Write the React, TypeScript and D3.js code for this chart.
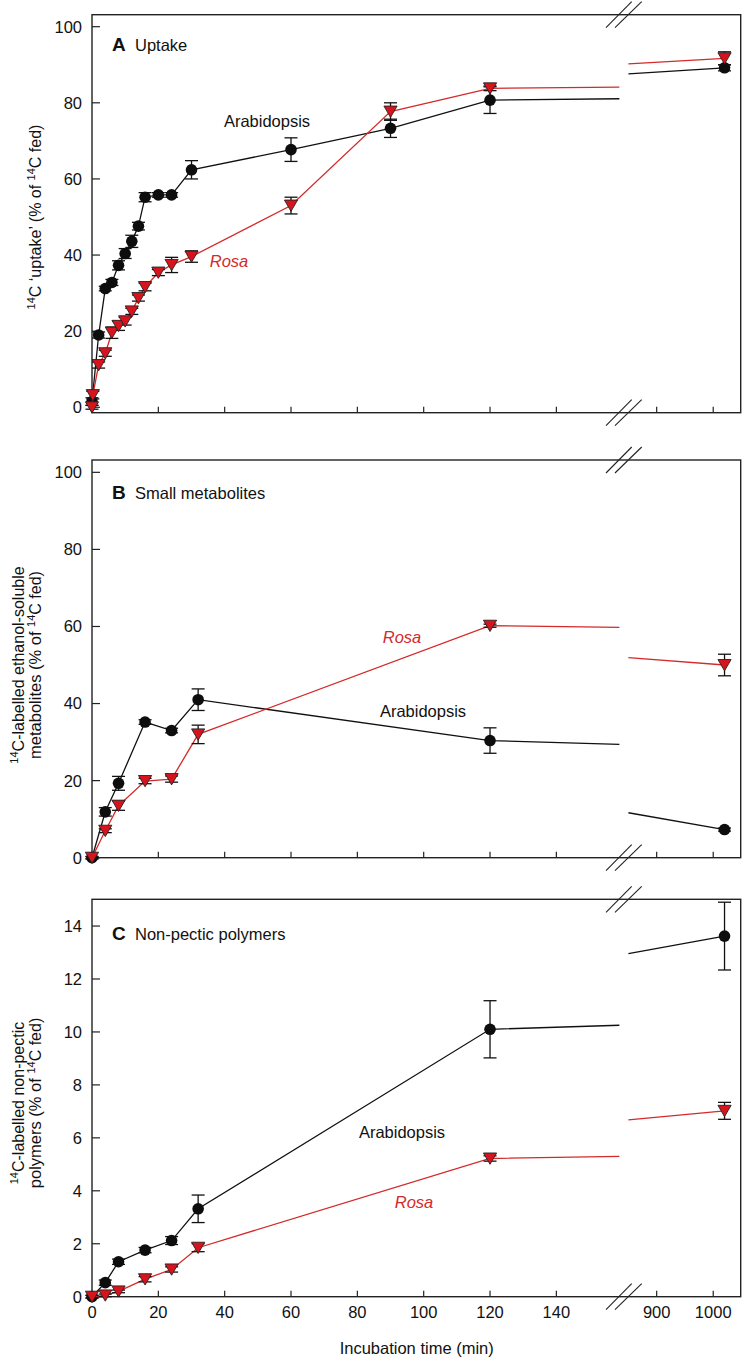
import React from 'react';
import * as d3 from 'd3';

// ---------- DATA ----------
// Panel A: uptake
const timesA_ara = [0, 2, 4, 6, 8, 10, 12, 14, 16, 20, 24, 30, 60, 90, 120, 1020];
const valsA_ara = [1.5, 19, 31.2, 32.8, 37.3, 40.4, 43.6, 47.6, 55.2, 55.8, 55.8, 62.4, 67.7, 73.3, 80.7, 89.2];
const errA_ara = [1.0, 0.8, 0.6, 0.8, 1.2, 1.3, 1.6, 1.0, 1.2, 0.6, 0.6, 2.4, 3.1, 2.4, 3.5, 0.8];

const timesA_rosa = [0, 0.25, 2, 4, 6, 8, 10, 12, 14, 16, 20, 24, 30, 60, 90, 120, 1020];
const valsA_rosa = [0, 3.2, 11.1, 14.2, 19.6, 21.4, 22.6, 25.2, 28.7, 31.6, 35.4, 37.4, 39.6, 53.0, 77.7, 83.8, 91.7];
const errA_rosa = [0.5, 1.0, 0.8, 0.8, 1.5, 1.2, 1.0, 0.8, 0.8, 1.0, 0.8, 2.0, 1.5, 2.2, 2.3, 0.6, 1.7];

// Panel B: small metabolites
const timesBC = [0, 4, 8, 16, 24, 32, 120, 1020];
const valsB_ara = [0, 11.9, 19.3, 35.2, 33.0, 41.0, 30.4, 7.3];
const errB_ara = [0.3, 1.1, 1.8, 0.6, 0.6, 2.8, 3.3, 0.4];
const valsB_rosa = [0, 7.0, 13.5, 19.9, 20.4, 32.0, 60.2, 50.0];
const errB_rosa = [0.3, 0.5, 1.2, 0.7, 0.8, 2.4, 0.4, 2.8];

// Panel C: non-pectic polymers
const valsC_ara = [0, 0.53, 1.32, 1.76, 2.12, 3.32, 10.1, 13.62];
const errC_ara = [0.05, 0.1, 0.1, 0.1, 0.15, 0.52, 1.08, 1.28];
const valsC_rosa = [0, 0.05, 0.2, 0.66, 1.03, 1.85, 5.22, 7.02];
const errC_rosa = [0.05, 0.05, 0.05, 0.1, 0.1, 0.15, 0.1, 0.32];

const yTicks100 = [0, 20, 40, 60, 80, 100];
const yTicks15 = [0, 2, 4, 6, 8, 10, 12, 14];
const xTicksLeft = [0, 20, 40, 60, 80, 100, 120, 140];
const xTicksRight = [900, 1000];

// ---------- LAYOUT ----------
const W = 743;
const H = 1359;
const FL = 92;
const FR = 740.7;
const FONT = '"Liberation Sans", Arial, Helvetica, sans-serif';
const RED = '#d42a2a';
const RED_FILL = '#d7141e';

const xLeft = d3.scaleLinear().domain([0, 160]).range([FL, 622.7]);
const xRight = d3.scaleLinear().domain([850, 1048.6]).range([628.4, FR]);
const LEFT_END = 159;
const RIGHT_START = 850;
const xPos = (t: number) => (t <= 160 ? xLeft(t) : xRight(t));

type Series = { times: number[]; vals: number[]; errs: number[]; kind: 'circle' | 'tri' };

function splitLine(s: Series, y: d3.ScaleLinear<number, number>) {
  const left: [number, number][] = [];
  const right: [number, number][] = [];
  for (let i = 0; i < s.times.length; i++) {
    const t = s.times[i];
    const v = s.vals[i];
    if (t <= LEFT_END) left.push([xLeft(t), y(v)]);
    if (i > 0) {
      const t0 = s.times[i - 1];
      const v0 = s.vals[i - 1];
      if (t0 <= LEFT_END && t >= RIGHT_START) {
        const f = (tt: number) => v0 + ((v - v0) * (tt - t0)) / (t - t0);
        left.push([xLeft(LEFT_END), y(f(LEFT_END))]);
        right.push([xRight(RIGHT_START), y(f(RIGHT_START))]);
      }
    }
    if (t >= RIGHT_START) right.push([xRight(t), y(v)]);
  }
  return [left, right];
}

type Panel = {
  top: number;
  bottom: number;
  domain: [number, number];
  ticks: number[];
  letter: string;
  title: string;
  letterY: number;
  ylabel: { x: number; pre: string; post: string }[];
  ylabelCY: number;
  ann: { text: string; x: number; y: number; red: boolean }[];
  series: Series[];
};

const panels: Panel[] = [
  {
    top: 14.7,
    bottom: 412.7,
    domain: [-1.42, 103.15],
    ticks: yTicks100,
    letter: 'A',
    title: 'Uptake',
    letterY: 50.7,
    ylabel: [{ x: 41, pre: '', post: 'C \u2018uptake\u2019  (% of |C fed)' }],
    ylabelCY: 217,
    ann: [
      { text: 'Arabidopsis', x: 267, y: 127, red: false },
      { text: 'Rosa', x: 229, y: 267, red: true },
    ],
    series: [
      { times: timesA_ara, vals: valsA_ara, errs: errA_ara, kind: 'circle' },
      { times: timesA_rosa, vals: valsA_rosa, errs: errA_rosa, kind: 'tri' },
    ],
  },
  {
    top: 460,
    bottom: 857.7,
    domain: [0, 103.2],
    ticks: yTicks100,
    letter: 'B',
    title: 'Small metabolites',
    letterY: 499.3,
    ylabel: [
      { x: 24, pre: '', post: 'C-labelled ethanol-soluble' },
      { x: 41, pre: 'metabolites (% of ', post: 'C fed)' },
    ],
    ylabelCY: 665,
    ann: [
      { text: 'Rosa', x: 402, y: 643, red: true },
      { text: 'Arabidopsis', x: 423, y: 716.7, red: false },
    ],
    series: [
      { times: timesBC, vals: valsB_ara, errs: errB_ara, kind: 'circle' },
      { times: timesBC, vals: valsB_rosa, errs: errB_rosa, kind: 'tri' },
    ],
  },
  {
    top: 899.3,
    bottom: 1296.7,
    domain: [0, 15.01],
    ticks: yTicks15,
    letter: 'C',
    title: 'Non-pectic polymers',
    letterY: 940,
    ylabel: [
      { x: 24, pre: '', post: 'C-labelled non-pectic' },
      { x: 41, pre: 'polymers (% of ', post: 'C fed)' },
    ],
    ylabelCY: 1103,
    ann: [
      { text: 'Arabidopsis', x: 402, y: 1138, red: false },
      { text: 'Rosa', x: 414, y: 1208, red: true },
    ],
    series: [
      { times: timesBC, vals: valsC_ara, errs: errC_ara, kind: 'circle' },
      { times: timesBC, vals: valsC_rosa, errs: errC_rosa, kind: 'tri' },
    ],
  },
];

// Renders a label with superscript "14" before segments; '|' in post marks a second "14".
function LabelText({ pre, post }: { pre: string; post: string }) {
  const parts = post.split('|');
  const out: React.ReactNode[] = [];
  if (pre) out.push(<tspan key="pre">{pre}</tspan>);
  parts.forEach((p, i) => {
    out.push(
      <tspan key={'s' + i} fontSize={11} dy={-6}>
        14
      </tspan>
    );
    out.push(
      <tspan key={'p' + i} fontSize={16} dy={6}>
        {p}
      </tspan>
    );
  });
  return <>{out}</>;
}

function BreakMarks({ y }: { y: number }) {
  return (
    <g stroke="#222" strokeWidth={1.1}>
      <line x1={606} y1={y + 13} x2={631.7} y2={y - 13} />
      <line x1={615} y1={y + 13} x2={641.7} y2={y - 13} />
    </g>
  );
}

function PanelView({ p, showX }: { p: Panel; showX: boolean }) {
  const y = d3.scaleLinear().domain(p.domain).range([p.bottom, p.top]);
  const line = d3.line<[number, number]>();
  return (
    <g>
      {/* frame */}
      <rect x={FL} y={p.top} width={FR - FL} height={p.bottom - p.top} fill="none" stroke="#222" strokeWidth={1.4} />
      {/* y ticks */}
      {p.ticks.map((t) => (
        <g key={'yt' + t}>
          <line x1={FL} x2={FL + 8} y1={y(t)} y2={y(t)} stroke="#222" strokeWidth={1.2} />
          <text x={82} y={y(t)} dy="0.36em" textAnchor="end" fontSize={16.5} fill="#111">
            {t}
          </text>
        </g>
      ))}
      {/* x ticks */}
      {xTicksLeft.map((t) => (
        <g key={'xl' + t}>
          <line x1={xLeft(t)} x2={xLeft(t)} y1={p.bottom} y2={p.bottom - 6} stroke="#222" strokeWidth={1.2} />
          {showX && (
            <text x={xLeft(t)} y={1318.3} textAnchor="middle" fontSize={16.5} fill="#111">
              {t}
            </text>
          )}
        </g>
      ))}
      {xTicksRight.map((t) => (
        <g key={'xr' + t}>
          <line x1={xRight(t)} x2={xRight(t)} y1={p.bottom} y2={p.bottom - 6} stroke="#222" strokeWidth={1.2} />
          {showX && (
            <text x={xRight(t)} y={1318.3} textAnchor="middle" fontSize={16.5} fill="#111">
              {t}
            </text>
          )}
        </g>
      ))}
      <BreakMarks y={p.top} />
      <BreakMarks y={p.bottom} />
      {/* panel label */}
      <text x={112} y={p.letterY} fontSize={19} fontWeight="bold" fill="#111">
        {p.letter}
      </text>
      <text x={135} y={p.letterY} fontSize={16.5} fill="#111">
        {p.title}
      </text>
      {/* y label */}
      {p.ylabel.map((l, i) => (
        <text
          key={'yl' + i}
          transform={`translate(${l.x},${p.ylabelCY}) rotate(-90)`}
          textAnchor="middle"
          fontSize={16.5}
          fill="#111"
        >
          <LabelText pre={l.pre} post={l.post} />
        </text>
      ))}
      {/* series */}
      {p.series.map((s, si) => {
        const color = s.kind === 'tri' ? RED : '#111';
        const [left, right] = splitLine(s, y);
        return (
          <g key={'s' + si}>
            <path d={line(left) || ''} fill="none" stroke={color} strokeWidth={1.3} />
            {right.length > 1 && <path d={line(right) || ''} fill="none" stroke={color} strokeWidth={1.3} />}
            {s.times.map((t, i) => {
              const cx = xPos(t);
              const y1 = y(s.vals[i] + s.errs[i]);
              const y2 = y(s.vals[i] - s.errs[i]);
              return (
                <g key={'e' + i} stroke="#111" strokeWidth={1.3}>
                  <line x1={cx} x2={cx} y1={y1} y2={y2} />
                  <line x1={cx - 6.5} x2={cx + 6.5} y1={y1} y2={y1} />
                  <line x1={cx - 6.5} x2={cx + 6.5} y1={y2} y2={y2} />
                </g>
              );
            })}
            {s.times.map((t, i) => {
              const cx = xPos(t);
              const cy = y(s.vals[i]);
              if (s.kind === 'circle') {
                return <circle key={'m' + i} cx={cx} cy={cy} r={5.8} fill="#0d0d0d" />;
              }
              return (
                <path
                  key={'m' + i}
                  d={`M${cx - 6.6},${cy - 5.5}L${cx + 6.6},${cy - 5.5}L${cx},${cy + 5.8}Z`}
                  fill={RED_FILL}
                  stroke="#222"
                  strokeWidth={0.9}
                  strokeLinejoin="round"
                />
              );
            })}
          </g>
        );
      })}
      {/* annotations */}
      {p.ann.map((a, i) => (
        <text
          key={'a' + i}
          x={a.x}
          y={a.y}
          textAnchor="middle"
          fontSize={16.5}
          fontStyle={a.red ? 'italic' : 'normal'}
          fill={a.red ? RED : '#111'}
        >
          {a.text}
        </text>
      ))}
    </g>
  );
}

export default function App() {
  return (
    <svg
      width={W}
      height={H}
      viewBox={`0 0 ${W} ${H}`}
      style={{ position: 'absolute', left: 0, top: 0, background: '#fff' }}
      fontFamily={FONT}
    >
      <rect x={0} y={0} width={W} height={H} fill="#fff" />
      {panels.map((p, i) => (
        <PanelView key={i} p={p} showX={i === panels.length - 1} />
      ))}
      <text x={416.7} y={1354} textAnchor="middle" fontSize={16.5} fill="#111">
        Incubation time (min)
      </text>
    </svg>
  );
}
